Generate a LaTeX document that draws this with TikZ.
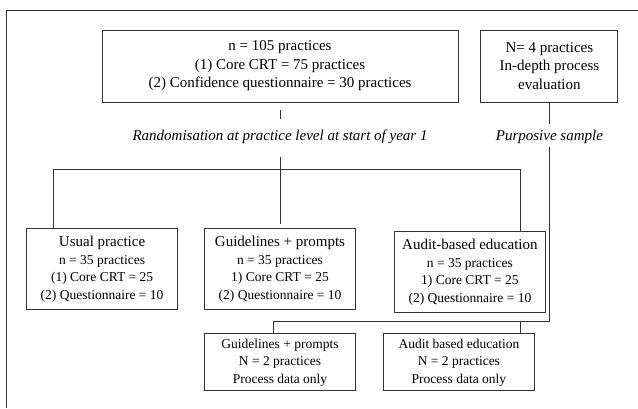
\documentclass[tikz,border=0pt]{standalone}
\usepackage{fontspec}
\setmainfont{Liberation Serif}
\usetikzlibrary{positioning,calc}
\newcommand{\grouptitle}[1]{{\fontsize{15}{17.5}\selectfont #1}}

\begin{document}
\begin{tikzpicture}[
  x=1pt, y=1pt,
  node distance=20pt and 22pt,
  box/.style={draw=black!80, line width=0.9pt, align=center, inner sep=2pt, font=\fontsize{15}{18.5}\selectfont},
  group/.style={box, minimum width=151pt, minimum height=81pt, font=\fontsize{13.5}{17.5}\selectfont},
  subbox/.style={box, minimum width=151pt, minimum height=57pt, font=\fontsize{13.5}{17.5}\selectfont},
  note/.style={inner sep=0pt, font=\fontsize{15}{18}\selectfont\itshape},
  link/.style={draw=black!80, line width=0.8pt}
]
  \useasboundingbox (0,0) rectangle (638,-408);
  \draw[link] (6,-408) -- (6,-10) -- (638,-10);

  \node[box, minimum width=356pt, minimum height=72pt] at (280,-66) (top) {n = 105 practices\\(1) Core CRT = 75 practices\\(2) Confidence questionnaire = 30 practices};
  \node[box, minimum width=137pt, minimum height=72pt, right=22pt of top] (eval) {N= 4 practices\\In-depth process\\evaluation};

  \node[note, below=27pt of top] (rand) {Randomisation at practice level at start of year 1};
  \node[note, below=27pt of eval] (purp) {Purposive sample};

  \node[group, below=126pt of top] (guide) {\grouptitle{Guidelines + prompts}\\n = 35 practices\\1) Core CRT = 25\\(2) Questionnaire = 10};
  \node[group, left=26pt of guide] (usual) {\grouptitle{Usual practice}\\n = 35 practices\\(1) Core CRT = 25\\(2) Questionnaire = 10};
  \node[group, right=38pt of guide, yshift=-3pt] (audit) {\grouptitle{Audit-based education}\\n = 35 practices\\1) Core CRT = 25\\(2) Questionnaire = 10};

  \node[subbox, below=23pt of guide] (bguide) {Guidelines + prompts\\N = 2 practices\\Process data only};
  \node[subbox, right=27pt of bguide] (baudit) {Audit based education\\N = 2 practices\\Process data only};

  \coordinate (split) at ([yshift=-26pt]rand.south);
  \coordinate (sub) at (purp.south |- 0,-321);

  % randomisation arm
  \draw[link, shorten <=8pt, shorten >=10pt] (top.south) -- (rand.north);
  \draw[link, shorten <=13pt, shorten >=4pt] (rand.south) -- (guide.north);
  \draw[link] ([xshift=27pt]usual.north west) |- (split) -| ([xshift=-25pt]audit.north east);

  % purposive sample arm
  \draw[link, shorten >=5pt] (eval.south) -- (purp.north);
  \draw[link, shorten <=4pt] (purp.south) -- (sub) -| ([xshift=69pt]bguide.north west);
  \draw[link] ([xshift=-14pt]baudit.north east) -- ([xshift=-14pt]baudit.north east |- sub);
\end{tikzpicture}
\end{document}
